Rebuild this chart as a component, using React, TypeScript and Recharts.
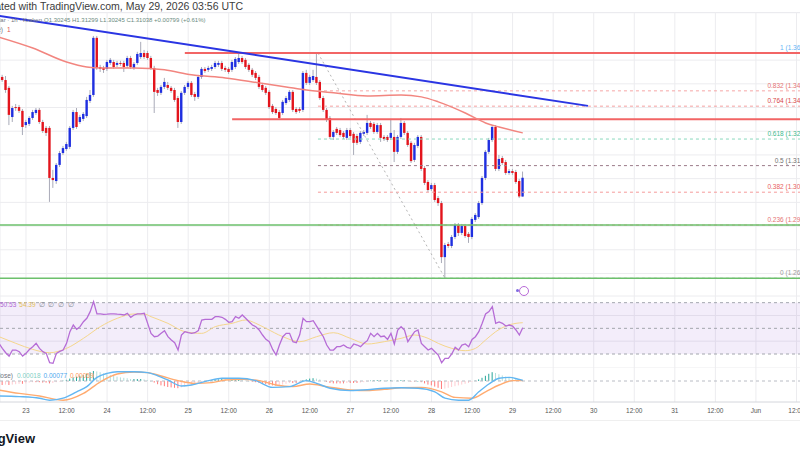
import React from 'react';
import {
  ComposedChart,
  Bar,
  Line,
  XAxis,
  YAxis,
  CartesianGrid,
  ReferenceLine,
  ReferenceArea,
} from 'recharts';

const FONT = '"Liberation Sans", Arial, sans-serif';
const UP = '#1f2fe0';
const DOWN = '#e3141c';
const WICK = '#a9abb8';
const GRID = '#ececef';

// hours since 23 May 00:00 UTC, one row per 1h bar
const FIRST_HOUR = -8;
const LAST_HOUR = 147;
const CANDLE_START = -7;
const X_DOMAIN = [-7.69, 246.8];
const X_TICKS = [0, 12, 24, 36, 48, 60, 72, 84, 96, 108, 120, 132, 144, 156, 168, 180, 192, 204, 216, 228, 240];
const X_LABELS = ['23', '12:00', '24', '12:00', '25', '12:00', '26', '12:00', '27', '12:00', '28', '12:00', '29', '12:00', '30', '12:00', '31', '12:00', 'Jun', '12:00', '2'];

const PRICE_DOMAIN = [1.2605, 1.3803];
const PRICE_TICKS = [1.27, 1.28, 1.29, 1.3, 1.31, 1.32, 1.33, 1.34, 1.35, 1.36, 1.37, 1.38];

// [open, high, low, close]
const CANDLES = [
  [1.3529, 1.3538, 1.3508, 1.3516], [1.3516, 1.3533, 1.3462, 1.3474], [1.3483, 1.3491, 1.3326, 1.3369],
  [1.336, 1.3407, 1.3339, 1.3398], [1.3402, 1.3415, 1.3386, 1.3398], [1.3402, 1.3411, 1.3377, 1.3386],
  [1.3386, 1.3394, 1.3284, 1.3318], [1.3326, 1.3348, 1.3314, 1.3339], [1.3331, 1.3364, 1.3322, 1.3356],
  [1.3356, 1.339, 1.3348, 1.3381], [1.3377, 1.3398, 1.3369, 1.339], [1.339, 1.3398, 1.3331, 1.3339],
  [1.3339, 1.3348, 1.3293, 1.3301], [1.3314, 1.3322, 1.328, 1.3293], [1.3314, 1.3322, 1.3002, 1.3103],
  [1.3103, 1.3137, 1.3061, 1.3094], [1.309, 1.3166, 1.3078, 1.3158], [1.3158, 1.3217, 1.3149, 1.3208],
  [1.3208, 1.3238, 1.32, 1.3229], [1.3225, 1.3255, 1.3217, 1.3246], [1.3234, 1.3322, 1.3225, 1.3314],
  [1.3314, 1.339, 1.3305, 1.3381], [1.3381, 1.3398, 1.331, 1.3318], [1.3339, 1.3369, 1.3331, 1.336],
  [1.3352, 1.3381, 1.3343, 1.3373], [1.3364, 1.3445, 1.3356, 1.3432], [1.3428, 1.3474, 1.3419, 1.3453],
  [1.3453, 1.3702, 1.3445, 1.3694], [1.3694, 1.3702, 1.3559, 1.3567], [1.3571, 1.358, 1.355, 1.3563],
  [1.3567, 1.3576, 1.3546, 1.3559], [1.3563, 1.3601, 1.3554, 1.3592], [1.3588, 1.3609, 1.358, 1.3601],
  [1.3592, 1.3601, 1.3563, 1.3571], [1.358, 1.3597, 1.3571, 1.3588], [1.3588, 1.3597, 1.3576, 1.3584],
  [1.3588, 1.3597, 1.355, 1.3571], [1.3576, 1.3618, 1.3567, 1.3609], [1.3609, 1.3618, 1.3563, 1.3571],
  [1.3567, 1.3592, 1.3559, 1.3584], [1.3588, 1.3635, 1.358, 1.3626], [1.3613, 1.3677, 1.3605, 1.363],
  [1.363, 1.3643, 1.3605, 1.3613], [1.363, 1.3639, 1.3601, 1.3609], [1.3609, 1.3618, 1.3559, 1.3567],
  [1.3567, 1.3576, 1.3377, 1.3466], [1.3474, 1.3483, 1.3449, 1.3462], [1.3462, 1.3495, 1.3453, 1.3487],
  [1.3487, 1.3525, 1.3478, 1.3508], [1.3495, 1.3508, 1.3474, 1.3483], [1.3483, 1.3491, 1.3462, 1.347],
  [1.3474, 1.3483, 1.3424, 1.3432], [1.344, 1.3449, 1.3314, 1.3339], [1.3339, 1.347, 1.3331, 1.3462],
  [1.3462, 1.3495, 1.3453, 1.3487], [1.3487, 1.3512, 1.3478, 1.3504], [1.3504, 1.3512, 1.3445, 1.3453],
  [1.3457, 1.3466, 1.3428, 1.3445], [1.3445, 1.3538, 1.3436, 1.3529], [1.3529, 1.3571, 1.3521, 1.3563],
  [1.3563, 1.3571, 1.3546, 1.3554], [1.3559, 1.3576, 1.355, 1.3567], [1.3563, 1.358, 1.3554, 1.3571],
  [1.3571, 1.3597, 1.3563, 1.3588], [1.358, 1.3597, 1.3571, 1.3588], [1.3588, 1.3597, 1.3554, 1.3563],
  [1.3567, 1.3576, 1.355, 1.3559], [1.3563, 1.3571, 1.3542, 1.355], [1.3559, 1.3601, 1.355, 1.3592],
  [1.3571, 1.3613, 1.3563, 1.3605], [1.3592, 1.363, 1.3584, 1.3609], [1.3609, 1.3618, 1.3584, 1.3592],
  [1.3601, 1.3609, 1.3563, 1.3571], [1.358, 1.3588, 1.355, 1.3559], [1.3559, 1.3567, 1.3529, 1.3538],
  [1.3546, 1.3554, 1.3516, 1.3525], [1.3529, 1.3538, 1.3478, 1.3487], [1.3495, 1.3504, 1.3466, 1.3474],
  [1.3483, 1.3491, 1.3453, 1.3462], [1.3466, 1.3474, 1.3394, 1.3402], [1.3407, 1.3415, 1.3373, 1.3381],
  [1.3394, 1.3402, 1.3369, 1.3377], [1.3381, 1.339, 1.3348, 1.3356], [1.3377, 1.3432, 1.3369, 1.3424],
  [1.3419, 1.3449, 1.3411, 1.344], [1.3432, 1.3474, 1.3424, 1.3466], [1.3466, 1.3474, 1.3381, 1.339],
  [1.3394, 1.3402, 1.3373, 1.3381], [1.3394, 1.3402, 1.3377, 1.3386], [1.339, 1.3554, 1.3381, 1.3546],
  [1.3546, 1.3559, 1.3495, 1.3504], [1.3504, 1.3538, 1.3495, 1.3529], [1.3516, 1.3559, 1.3508, 1.3533],
  [1.3529, 1.363, 1.3495, 1.3504], [1.3508, 1.3516, 1.3432, 1.344], [1.344, 1.3449, 1.3381, 1.339],
  [1.339, 1.3398, 1.3339, 1.3348], [1.3356, 1.3364, 1.3267, 1.3276], [1.3276, 1.3305, 1.3263, 1.3297],
  [1.331, 1.3318, 1.3284, 1.3293], [1.3305, 1.3314, 1.3276, 1.3284], [1.3293, 1.3301, 1.3267, 1.3276],
  [1.3272, 1.3314, 1.3263, 1.3305], [1.3305, 1.3314, 1.3272, 1.328], [1.3289, 1.3297, 1.32, 1.3251],
  [1.328, 1.3289, 1.3242, 1.3251], [1.3255, 1.3301, 1.3246, 1.3293], [1.3289, 1.3305, 1.328, 1.3297],
  [1.3293, 1.3369, 1.3284, 1.3335], [1.3335, 1.3343, 1.331, 1.3318], [1.3331, 1.3339, 1.3289, 1.3297],
  [1.3297, 1.3335, 1.3289, 1.3326], [1.3326, 1.3335, 1.3255, 1.3272], [1.3276, 1.3284, 1.3259, 1.3267],
  [1.3276, 1.3284, 1.3255, 1.3263], [1.3272, 1.3352, 1.3263, 1.3293], [1.3276, 1.3305, 1.317, 1.3213],
  [1.3213, 1.3284, 1.3204, 1.3276], [1.3276, 1.3356, 1.3267, 1.3335], [1.3335, 1.3343, 1.3284, 1.3293],
  [1.3293, 1.3301, 1.3234, 1.3242], [1.3251, 1.3259, 1.3166, 1.3174], [1.3179, 1.3251, 1.317, 1.3242],
  [1.3238, 1.3284, 1.3229, 1.3276], [1.3276, 1.3284, 1.3132, 1.3141], [1.3145, 1.3153, 1.3073, 1.3082],
  [1.3086, 1.3094, 1.3044, 1.3052], [1.3056, 1.3082, 1.3048, 1.3073], [1.3073, 1.3082, 1.3002, 1.301],
  [1.3018, 1.3027, 1.2985, 1.2997], [1.2997, 1.3006, 1.2744, 1.2769], [1.2769, 1.2829, 1.268, 1.282],
  [1.2824, 1.2833, 1.2807, 1.2816], [1.2816, 1.2862, 1.2807, 1.2854], [1.2854, 1.2913, 1.2845, 1.2905],
  [1.2905, 1.2913, 1.2858, 1.2871], [1.2871, 1.2909, 1.2862, 1.29], [1.29, 1.2909, 1.285, 1.2858],
  [1.2867, 1.2875, 1.2829, 1.2854], [1.2854, 1.2938, 1.2845, 1.293], [1.2926, 1.2955, 1.2917, 1.2947],
  [1.2938, 1.3006, 1.293, 1.2997], [1.2997, 1.3111, 1.2989, 1.3103], [1.3103, 1.3221, 1.3094, 1.3213],
  [1.3213, 1.3272, 1.3204, 1.3263], [1.3263, 1.3326, 1.3255, 1.3318], [1.3318, 1.3326, 1.3132, 1.3141],
  [1.3141, 1.32, 1.3132, 1.3183], [1.3187, 1.3196, 1.3158, 1.3166], [1.317, 1.3179, 1.3116, 1.3124],
  [1.3124, 1.3141, 1.3116, 1.3132], [1.3132, 1.3141, 1.3116, 1.3124], [1.3128, 1.3137, 1.3078, 1.3086],
  [1.309, 1.3099, 1.3018, 1.3025], [1.30245, 1.31299, 1.30245, 1.31038],
];

// moving average on price, read at a few bars
const MA_POINTS = [
  [-8, 1.3697], [2, 1.3651], [12, 1.3592], [18, 1.3571], [22, 1.3567], [32, 1.3567], [41, 1.3559],
  [49, 1.3538], [59, 1.3525], [69, 1.3504], [77, 1.3487], [83, 1.3474], [91, 1.3462], [101, 1.3449],
  [111, 1.3453], [117, 1.3445], [122, 1.3424], [130, 1.3377], [136, 1.3335], [140, 1.3318], [147, 1.3293],
];

// hand drawn lines
const TREND_LINE = [[-8, 1.3787], [166.3, 1.3407]];
const RES_LINES = [[47, 1.363], [61, 1.3351]];
const SUPPORT_LINES = [1.2905, 1.268];
const FIB_START = 86.4;
const FIB_END = 233;
const FIB_RATIOS = ['1', '0.832', '0.764', '0.618', '0.5', '0.382', '0.236', '0'];
const FIB_PRICES = [1.363, 1.34704, 1.34058, 1.32671, 1.3155, 1.30429, 1.29042, 1.268];
const FIB_COLORS = ['#64b5f6', '#e57373', '#d84848', '#3dbb8f', '#707070', '#e86060', '#e57373', '#9a9a9a'];
const FIB_LINE_COLORS = ['#9ec9f0', '#f6a5a5', '#f4a0a0', '#8ad8bd', '#9a7a88', '#f59a9a', '#f4a0a0', '#bdbdbd'];
const FIB_DIAGONAL = [[86.4, 1.363], [124, 1.268]];

const RSI = [
  38.3, 34.4, 31.0, 28.4, 33.1, 33.1, 31.8, 28.4, 30.5, 33.5,
  35.7, 38.3, 34.4, 31.8, 30.5, 23.2, 22.7, 30.5, 32.0, 33.1,
  38.3, 47.4, 52.6, 49.2, 51.3, 55.2, 57.8, 63.0, 70.8, 61.2,
  61.2, 60.9, 61.0, 61.2, 61.2, 61.0, 60.9, 60.4, 61.7, 58.6,
  60.4, 61.2, 61.2, 61.7, 53.9, 46.1, 43.5, 44.0, 46.1, 48.2,
  43.5, 40.9, 38.8, 33.1, 44.8, 47.4, 46.6, 46.1, 46.6, 48.2,
  56.5, 57.0, 57.0, 57.0, 59.1, 59.1, 58.6, 57.0, 54.7, 55.2,
  59.1, 57.8, 60.4, 57.8, 55.2, 52.6, 51.3, 48.7, 44.8, 41.4,
  39.6, 33.6, 29.2, 37.0, 43.5, 46.1, 46.1, 39.6, 38.8, 45.0,
  57.8, 55.2, 55.2, 56.0, 51.8, 47.4, 43.5, 37.0, 33.1, 33.1,
  35.7, 35.7, 37.0, 35.2, 34.4, 37.8, 37.0, 35.7, 38.3, 40.4,
  46.1, 43.5, 46.1, 43.5, 44.0, 41.4, 46.1, 37.8, 48.7, 51.3,
  48.7, 39.6, 43.5, 47.4, 48.7, 38.3, 35.7, 33.1, 34.4, 31.8,
  29.2, 23.2, 26.6, 26.6, 30.0, 35.2, 33.1, 37.0, 37.8, 35.7,
  41.4, 43.5, 47.4, 53.9, 61.2, 63.0, 66.9, 53.9, 55.0, 53.9,
  51.8, 52.6, 51.8, 48.7, 44.8, 50.5,
];
const RSI_MA_POINTS = [
  [-8, 43.5], [-3, 38.3], [2, 33.6], [7, 31.0], [12, 34.4], [17, 42.2], [22, 51.3], [27, 57.8],
  [32, 61.2], [35, 61.2], [37, 59.1], [42, 53.9], [47, 47.4], [52, 46.1], [56, 51.3], [61, 53.9],
  [65, 56.5], [68, 53.9], [71, 50.0], [76, 43.5], [81, 39.6], [86, 43.5], [91, 46.6], [96, 42.2],
  [101, 37.8], [106, 39.6], [111, 42.2], [115, 44.8], [119, 42.2], [122, 38.3], [126, 34.4],
  [130, 32.6], [133, 34.4], [136, 40.9], [139, 47.4], [142, 51.8], [145, 53.9], [147, 54.4],
];
const RSI_DOMAIN = [19.1, 75.2];

const HIST = [
  -0.001, -0.001, -0.0009, -0.001, -0.0009, -0.0008, -0.0007, -0.0007, -0.0006, -0.0004,
  -0.0003, -0.0003, -0.0003, -0.0004, -0.0004, -0.0006, -0.0005, -0.0003, -0.0001, 0.0001,
  0.0003, 0.0006, 0.0009, 0.0011, 0.0013, 0.0015, 0.0018, 0.0022, 0.0025, 0.0024,
  0.0022, 0.0019, 0.0017, 0.0015, 0.0013, 0.0011, 0.0009, 0.0008, 0.0007, 0.0005,
  0.0005, 0.0005, 0.0005, 0.0004, 0.0002, 0, -0.0004, -0.0008, -0.0011, -0.0013,
  -0.0015, -0.0016, -0.0017, -0.0018, -0.0016, -0.0014, -0.0012, -0.001, -0.0009, -0.0006,
  -0.0003, -0.0001, 0.0001, 0.0002, 0.0003, 0.0004, 0.0005, 0.0004, 0.0003, 0.0003,
  0.0004, 0.0004, 0.0003, 0.0001, 0, -0.0002, -0.0003, -0.0005, -0.0007, -0.0008,
  -0.001, -0.0011, -0.0012, -0.0011, -0.0009, -0.0007, -0.0005, -0.0005, -0.0005, -0.0004,
  0.0002, 0.0004, 0.0006, 0.0007, 0.0006, 0.0004, 0.0001, -0.0002, -0.0005, -0.0006,
  -0.0006, -0.0006, -0.0006, -0.0005, -0.0005, -0.0005, -0.0005, -0.0004, -0.0003, -0.0001,
  0.0001, 0.0002, 0.0002, 0.0002, 0.0001, 0.0001, 0.0002, 0.0001, 0.0001, 0.0002,
  0.0002, 0.0001, -0.0001, -0.0001, 0, -0.0003, -0.0006, -0.0009, -0.0011, -0.0014,
  -0.0017, -0.002, -0.0019, -0.0017, -0.0015, -0.0013, -0.0011, -0.0009, -0.0007, -0.0005,
  -0.0002, 0.0001, 0.0004, 0.0008, 0.0013, 0.0018, 0.0022, 0.002, 0.0017, 0.0014,
  0.0011, 0.0009, 0.0007, 0.0005, 0.0003, 0.0002,
];
const MACD_POINTS = [
  [-8, -0.00375], [-2, -0.0039], [4, -0.0043], [7, -0.0048], [11, -0.0043], [15, -0.0027], [18, -0.0014],
  [21, 0.0009], [24, 0.0019], [27, 0.0023], [32, 0.0023], [36, 0.0021], [39, 0.0013], [42, 0.00025],
  [46, -0.00125], [49, -0.001], [54, 0.0001], [58, 0.0007], [63, 0.0007], [68, 0.0001], [73, -0.0016],
  [78, -0.0014], [83, 0.0001], [86, -0.0006], [90, -0.0018], [96, -0.0024], [101, -0.0022],
  [106, -0.0018], [111, -0.0017], [116, -0.0018], [121, -0.0027], [124, -0.0043], [128, -0.0048],
  [131, -0.0048], [134, -0.0027], [137, -0.00075], [140, 0.0007], [143, 0.0009], [146, 0.0004], [147, 0.0002],
];
const SIGNAL_POINTS = [
  [-8, -0.00225], [-2, -0.0031], [4, -0.00375], [11, -0.0048], [17, -0.0031], [22, -0.0002],
  [27, 0.00175], [32, 0.00225], [36, 0.0021], [40, 0.00125], [45, 0.0001], [50, -0.0006], [55, -0.0004],
  [59, 0.00025], [64, 0.0004], [69, 0.0001], [74, -0.001], [79, -0.0014], [84, -0.00075], [89, -0.0014],
  [96, -0.00225], [101, -0.0024], [106, -0.0021], [111, -0.0017], [117, -0.0016], [123, -0.0027],
  [127, -0.0041], [132, -0.0043], [136, -0.0027], [140, -0.001], [144, 0.0001], [147, 0.0001],
];
const MACD_DOMAIN = [-0.00525, 0.00325];

const rows: any[] = [];
for (let t = FIRST_HOUR; t <= LAST_HOUR; t++) {
  const cd = CANDLES[t - CANDLE_START];
  rows.push({
    t,
    o: cd ? cd[0] : null,
    h: cd ? cd[1] : null,
    l: cd ? cd[2] : null,
    c: cd ? cd[3] : null,
    rsi: RSI[t - FIRST_HOUR],
    hist: HIST[t - FIRST_HOUR],
  });
}
const put = (pts: number[][], key: string) => {
  pts.forEach(([t, v]) => {
    rows[t - FIRST_HOUR][key] = v;
  });
};
put(MA_POINTS, 'ma');
put(RSI_MA_POINTS, 'rsiMa');
put(MACD_POINTS, 'macd');
put(SIGNAL_POINTS, 'signal');

const W = 860;

const Candle = (props: any) => {
  const { x, y, width, height, payload } = props;
  if (!payload || payload.o == null) return <g />;
  const { o, h, l, c } = payload;
  const top = height < 0 ? y + height : y;
  const hh = Math.abs(height);
  const k = h - l > 0 ? hh / (h - l) : 0;
  const cx = x + width / 2;
  const bodyTop = top + (h - Math.max(o, c)) * k;
  const bodyH = Math.max(1, Math.abs(o - c) * k);
  return (
    <g>
      <line x1={cx} x2={cx} y1={top} y2={top + hh} stroke={WICK} strokeWidth={1} />
      <rect x={cx - 1.2} y={bodyTop} width={2.4} height={bodyH} fill={c >= o ? UP : DOWN} />
    </g>
  );
};

const HistBar = (props: any) => {
  const { x, y, width, height, payload } = props;
  const i = payload.t - FIRST_HOUR;
  const v = HIST[i];
  const prev = i > 0 ? HIST[i - 1] : v;
  let fill;
  if (v >= 0) fill = v >= prev ? '#26a69a' : '#b2dfdb';
  else fill = v <= prev ? '#ff7b7b' : '#ffcdd2';
  const top = height < 0 ? y + height : y;
  return <rect x={x + width / 2 - 0.5} y={top} width={1} height={Math.max(Math.abs(height), 0.5)} fill={fill} />;
};

const FibLabel = (props: any) => {
  const { viewBox, caption, color } = props;
  if (!viewBox) return null;
  return (
    <text x={viewBox.x + viewBox.width} y={viewBox.y - 3} textAnchor="end" fontSize={6.5} fill={color} fontFamily={FONT}>
      {caption}
    </text>
  );
};

const hiddenX = (
  <XAxis dataKey="t" type="number" domain={X_DOMAIN} ticks={X_TICKS} allowDataOverflow hide />
);

function PricePane() {
  return (
    <ComposedChart width={W} height={284} data={rows} margin={{ top: 0, right: 0, bottom: 0, left: 0 }}>
      <CartesianGrid stroke={GRID} />
      {hiddenX}
      <YAxis type="number" domain={PRICE_DOMAIN} ticks={PRICE_TICKS} allowDataOverflow hide />
      {FIB_PRICES.map((p, i) => (
        <ReferenceLine
          key={'fib' + i}
          segment={[{ x: FIB_START, y: p }, { x: FIB_END, y: p }]}
          stroke={FIB_LINE_COLORS[i]}
          strokeDasharray="3 3"
          ifOverflow="hidden"
          label={<FibLabel caption={`${FIB_RATIOS[i]} (${p.toFixed(5)})`} color={FIB_COLORS[i]} />}
        />
      ))}
      <ReferenceLine
        segment={[{ x: FIB_DIAGONAL[0][0], y: FIB_DIAGONAL[0][1] }, { x: FIB_DIAGONAL[1][0], y: FIB_DIAGONAL[1][1] }]}
        stroke="#b5b5b5"
        strokeDasharray="2 3"
        ifOverflow="hidden"
      />
      {SUPPORT_LINES.map((p) => (
        <ReferenceLine key={'s' + p} y={p} stroke="#6cc06c" strokeWidth={1.5} />
      ))}
      {RES_LINES.map(([t, p]) => (
        <ReferenceLine
          key={'r' + p}
          segment={[{ x: t, y: p }, { x: 250, y: p }]}
          stroke="#f26565"
          strokeWidth={2}
          ifOverflow="hidden"
        />
      ))}
      <Line dataKey="ma" type="monotone" stroke="#f2857f" strokeWidth={1.5} dot={false} connectNulls isAnimationActive={false} />
      <Bar
        dataKey={(d: any) => (d.o == null ? null : [d.l, d.h])}
        barSize={3}
        shape={Candle}
        isAnimationActive={false}
      />
      <ReferenceLine
        segment={[{ x: TREND_LINE[0][0], y: TREND_LINE[0][1] }, { x: TREND_LINE[1][0], y: TREND_LINE[1][1] }]}
        stroke="#2a35e3"
        strokeWidth={2}
        ifOverflow="hidden"
      />
    </ComposedChart>
  );
}

function RsiPane() {
  return (
    <ComposedChart width={W} height={72} data={rows} margin={{ top: 0, right: 0, bottom: 0, left: 0 }}>
      <CartesianGrid stroke={GRID} />
      {hiddenX}
      <YAxis type="number" domain={RSI_DOMAIN} ticks={[40, 60]} allowDataOverflow hide />
      <ReferenceArea y1={30} y2={70} fill="#8e5ad0" fillOpacity={0.11} stroke="none" />
      {[70, 50, 30].map((v) => (
        <ReferenceLine key={v} y={v} stroke="#a3a6ae" strokeDasharray="3 3" />
      ))}
      <Line dataKey="rsiMa" type="monotone" stroke="#f5d68c" strokeWidth={1} dot={false} connectNulls isAnimationActive={false} />
      <Line dataKey="rsi" type="linear" stroke="#b66cd6" strokeWidth={1.3} dot={false} isAnimationActive={false} />
    </ComposedChart>
  );
}

function MacdPane() {
  return (
    <ComposedChart width={W} height={52} data={rows} margin={{ top: 0, right: 0, bottom: 0, left: 0 }}>
      <CartesianGrid stroke={GRID} horizontal={false} />
      <XAxis
        dataKey="t"
        type="number"
        domain={X_DOMAIN}
        ticks={X_TICKS}
        allowDataOverflow
        interval={0}
        height={18}
        tickLine={false}
        tickSize={0}
        tickMargin={6}
        axisLine={{ stroke: '#d4d6dc' }}
        tick={{ fontSize: 6.5, fill: '#555', fontFamily: FONT }}
        tickFormatter={(v: number) => X_LABELS[X_TICKS.indexOf(v)]}
      />
      <YAxis type="number" domain={MACD_DOMAIN} allowDataOverflow hide />
      <ReferenceLine y={0} stroke="#b9bcc4" strokeDasharray="3 3" />
      <Bar dataKey="hist" barSize={1} shape={HistBar} isAnimationActive={false} />
      <Line dataKey="signal" type="monotone" stroke="#ffab70" strokeWidth={1.4} dot={false} connectNulls isAnimationActive={false} />
      <Line dataKey="macd" type="monotone" stroke="#62b6f2" strokeWidth={1.4} dot={false} connectNulls isAnimationActive={false} />
    </ComposedChart>
  );
}

const abs = (s: React.CSSProperties): React.CSSProperties => ({ position: 'absolute', whiteSpace: 'nowrap', ...s });

export default function App() {
  return (
    <div style={{ position: 'absolute', left: 0, top: 0, width: 800, height: 450, overflow: 'hidden', background: '#fff', fontFamily: FONT }}>
      <div style={abs({ right: 557, top: 0, fontSize: 10.5, lineHeight: '12px', color: '#3c3c3c' })}>
        Created with TradingView.com, May 29, 2026 03:56 UTC
      </div>
      <div style={abs({ left: 0, top: 12, width: 800, height: 1, background: '#e4e6eb' })} />

      <div style={abs({ left: 0, top: 12 })}>
        <PricePane />
      </div>
      <div style={abs({ left: 0, top: 296 })}>
        <RsiPane />
      </div>
      <div style={abs({ left: 0, top: 368 })}>
        <MacdPane />
      </div>

      <div style={abs({ right: 758, top: 16, fontSize: 6, lineHeight: '8px', color: '#6f7480' })}>Dollar · 1h · Kraken</div>
      <div style={abs({ left: 44, top: 16, fontSize: 6, lineHeight: '8px', color: '#6a8a7e' })}>
        O1.30245 H1.31299 L1.30245 C1.31038 +0.00799 (+0.61%)
      </div>
      <div style={abs({ right: 797, top: 26, fontSize: 6.5, lineHeight: '8px', color: '#6f7480' })}>SMA 100 close)</div>
      <div style={abs({ left: 7, top: 26, fontSize: 6.5, lineHeight: '8px', color: '#e05050' })}>1</div>

      <div style={abs({ left: 0, top: 301, fontSize: 6.5, lineHeight: '8px' })}>
        <span style={{ color: '#b066d4' }}>50.53</span>
        <span style={{ color: '#e3bf58', marginLeft: 3 }}>54.39</span>
        <span style={{ color: '#8a8d96', marginLeft: 3, letterSpacing: 1 }}>∅ ∅ ∅ ∅</span>
      </div>
      <div style={abs({ right: 787, top: 372, fontSize: 6.5, lineHeight: '8px', color: '#6f7480' })}>MACD 12 26 close)</div>
      <div style={abs({ left: 17, top: 372, fontSize: 6.5, lineHeight: '8px' })}>
        <span style={{ color: '#7fcfc5' }}>0.00018</span>
        <span style={{ color: '#4ea8ee', marginLeft: 3 }}>0.00077</span>
        <span style={{ color: '#ff9a5a', marginLeft: 3 }}>0.00059</span>
      </div>

      <div style={abs({ left: 519, top: 286, width: 8, height: 8, borderRadius: 5, border: '1.2px solid #b86ad8' })} />
      <div style={abs({ left: 516, top: 289, width: 3, height: 3, borderRadius: 2, background: '#7d6ae0' })} />

      <div style={abs({ left: 0, top: 420, width: 800, height: 1, background: '#efefef' })} />
      <div style={abs({ right: 765, top: 431, fontSize: 13, fontWeight: 700, lineHeight: '16px', color: '#131722' })}>
        TradingView
      </div>
    </div>
  );
}
